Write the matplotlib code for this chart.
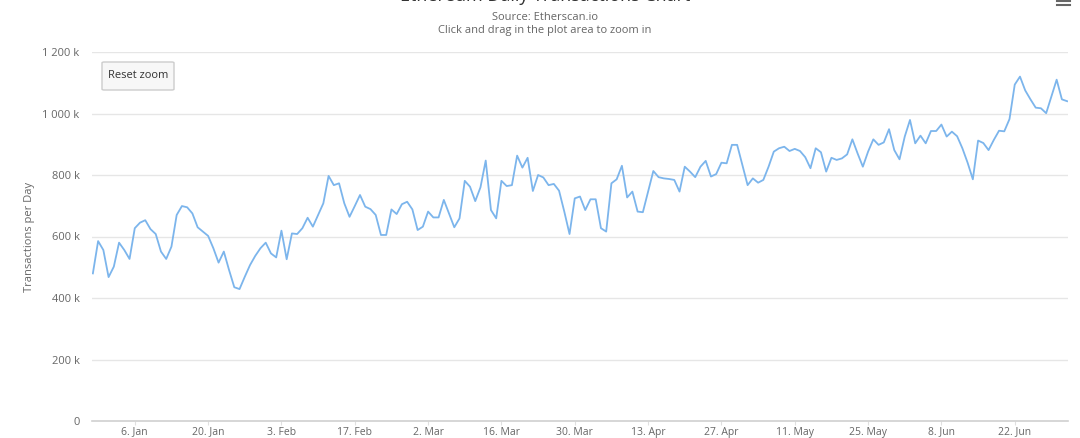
import matplotlib
matplotlib.use("Agg")
import matplotlib.pyplot as plt
from matplotlib.patches import FancyBboxPatch
from matplotlib.lines import Line2D
import pandas as pd

plt.rcParams['font.family'] = ['Liberation Sans Narrow', 'Open Sans', 'DejaVu Sans']

# ---- data (thousands of transactions per day) ----
start_date = "2019-12-29"
tx_per_day_k = [
    480, 585, 556, 468, 502, 580, 556, 527, 627, 645,
    653, 624, 608, 551, 527, 567, 670, 699, 695, 675,
    630, 616, 602, 562, 515, 551, 491, 435, 429, 469,
    507, 537, 562, 580, 545, 532, 619, 526, 610, 608,
    627, 661, 632, 670, 708, 797, 767, 773, 708, 664,
    699, 735, 697, 689, 670, 605, 605, 688, 673, 705,
    713, 688, 621, 632, 681, 662, 662, 719, 675, 630,
    659, 781, 762, 715, 760, 847, 686, 659, 781, 764,
    767, 863, 824, 856, 748, 800, 792, 767, 771, 749,
    681, 608, 724, 730, 686, 721, 721, 627, 616, 773,
    786, 830, 727, 746, 681, 679, 746, 813, 793, 789,
    787, 784, 746, 827, 811, 793, 827, 846, 795, 803,
    840, 838, 898, 898, 833, 767, 789, 775, 784, 827,
    876, 887, 892, 878, 885, 878, 858, 822, 887, 874,
    811, 856, 849, 854, 867, 916, 870, 827, 876, 916,
    898, 906, 949, 881, 851, 925, 979, 903, 928, 903,
    943, 943, 964, 925, 941, 926, 887, 840, 786, 912,
    904, 881, 914, 944, 942, 982, 1094, 1120, 1075, 1046,
    1019, 1017, 1001, 1055, 1110, 1046, 1040,
]
x_tick_dates = ["2020-01-06", "2020-01-20", "2020-02-03", "2020-02-17", "2020-03-02",
                "2020-03-16", "2020-03-30", "2020-04-13", "2020-04-27", "2020-05-11",
                "2020-05-25", "2020-06-08", "2020-06-22"]
x_tick_labels = ["6. Jan", "20. Jan", "3. Feb", "17. Feb", "2. Mar", "16. Mar", "30. Mar",
                 "13. Apr", "27. Apr", "11. May", "25. May", "8. Jun", "22. Jun"]
y_ticks = [0, 200000, 400000, 600000, 800000, 1000000, 1200000]
y_tick_labels = ["0", "200 k", "400 k", "600 k", "800 k", "1 000 k", "1 200 k"]

title = "Ethereum Daily Transactions Chart"
subtitle1 = "Source: Etherscan.io"
subtitle2 = "Click and drag in the plot area to zoom in"
y_label = "Transactions per Day"

dates = pd.date_range(start_date, periods=len(tx_per_day_k), freq="D")
values = [v * 1000 for v in tx_per_day_k]

W, H = 1080, 438
fig = plt.figure(figsize=(W / 100, H / 100), dpi=100)
fig.patch.set_facecolor("white")

ax_left, ax_right, ax_top, ax_bottom = 92, 1068, 52, 421
ax = fig.add_axes([ax_left / W, 1 - ax_bottom / H, (ax_right - ax_left) / W, (ax_bottom - ax_top) / H])

ax.plot(dates, values, color="#7cb5ec", lw=1.3, solid_joinstyle="round", zorder=3)

ax.set_ylim(0, 1200000)
ax.set_xlim(dates[0] - pd.Timedelta(hours=4), dates[-1] + pd.Timedelta(hours=4))
ax.set_yticks(y_ticks)
ax.set_yticklabels(y_tick_labels)
ax.set_xticks(pd.to_datetime(x_tick_dates))
ax.set_xticklabels(x_tick_labels)

ax.grid(axis="y", color="#e6e6e6", lw=1)
ax.set_axisbelow(True)
for s in ["top", "right", "left"]:
    ax.spines[s].set_visible(False)
ax.spines["bottom"].set_color("#d0d0d0")
ax.spines["bottom"].set_linewidth(1.2)

ax.tick_params(axis="y", length=0, pad=9, labelsize=8, labelcolor="#666666")
ax.tick_params(axis="x", length=3, width=0.8, color="#e0e0e0", pad=1, labelsize=7.5,
               labelcolor="#666666")

ax.set_ylabel(y_label, fontsize=8, color="#666666")
ax.yaxis.set_label_coords(-(92 - 35) / (ax_right - ax_left), 0.5)

# titles
fig.text(545 / W, 1 - (-4) / H, title, ha="center", va="center", fontsize=13, color="#333333")
fig.text(545 / W, 1 - 18 / H, subtitle1, ha="center", va="center", fontsize=8, color="#666666")
fig.text(545 / W, 1 - 31 / H, subtitle2, ha="center", va="center", fontsize=8, color="#666666")

# reset zoom button
btn = FancyBboxPatch((102 / W, 1 - 90 / H), 72 / W, 28 / H,
                     boxstyle="round,pad=0,rounding_size=0.002",
                     transform=fig.transFigure, facecolor="#f7f7f7",
                     edgecolor="#cccccc", lw=1, zorder=5)
fig.add_artist(btn)
fig.text(138 / W, 1 - 76 / H, "Reset zoom", ha="center", va="center", fontsize=8,
         color="#333333", zorder=6)

# menu icon (partly cut off at top)
for yy in [1, 5]:
    fig.add_artist(Line2D([1057 / W, 1070 / W], [1 - yy / H, 1 - yy / H],
                          transform=fig.transFigure, color="#666666", lw=1.5))

fig.savefig("out.png", dpi=100, facecolor="white")
